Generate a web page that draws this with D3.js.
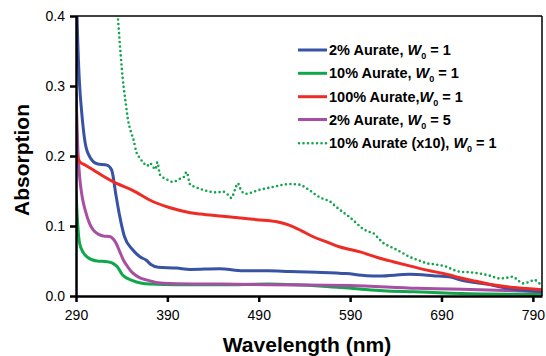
<!DOCTYPE html>
<html>
<head>
<meta charset="utf-8">
<script src="https://cdn.jsdelivr.net/npm/d3@7"></script>
<style>
body { margin: 0; background: #fff; }
svg text { font-family: "Liberation Sans", Arial, sans-serif; }
</style>
</head>
<body>
<div id="viz"></div>
<script>
// series: [wavelength nm, absorption]
var blue2w1 = [[290,0.45],[292,0.36],[294,0.30],[296,0.266],[300,0.219],[305,0.199],[313,0.189],[324,0.187],[329,0.18],
  [334,0.142],[338,0.113],[343,0.085],[352,0.066],[360,0.056],[367,0.051],[372,0.045],[380,0.041],[400,0.040],[415,0.038],
  [447,0.039],[473,0.036],[500,0.036],[524,0.035],[553,0.034],[586,0.032],[608,0.029],[622,0.0286],[655,0.031],[681,0.029],
  [700,0.027],[710,0.023],[739,0.017],[768,0.010],[800,0.006]];
var green10w1 = [[290,0.15],[292,0.10],[294,0.075],[298,0.062],[302,0.056],[313,0.050],[324,0.049],[330,0.047],[335,0.042],
  [341,0.030],[352,0.022],[371,0.017],[400,0.016],[450,0.016],[500,0.017],[530,0.016],[560,0.014],[600,0.010],[626,0.0076],
  [660,0.006],[700,0.004],[735,0.003],[800,0.002]];
var red100w1 = [[290,0.205],[294,0.192],[300,0.187],[309,0.18],[320,0.171],[331,0.163],[352,0.151],[374,0.135],[393,0.126],
  [415,0.119],[426,0.117],[451,0.114],[488,0.109],[510,0.106],[524,0.101],[537,0.093],[549,0.085],[565,0.077],[579,0.070],
  [601,0.063],[620,0.055],[637,0.049],[655,0.043],[674,0.037],[699,0.030],[710,0.026],[728,0.021],[746,0.016],[770,0.012],[800,0.009]];
var purple2w5 = [[290,0.29],[291,0.25],[292,0.21],[294,0.17],[297,0.14],[300,0.123],[305,0.103],[309,0.094],[315,0.088],
  [320,0.0857],[327,0.085],[331,0.081],[334,0.075],[338,0.063],[342,0.051],[347,0.041],[352,0.033],[360,0.026],[367,0.023],
  [380,0.019],[393,0.018],[450,0.017],[500,0.016],[590,0.015],[663,0.011],[700,0.010],[760,0.008],[800,0.006]];
var green10x10 = [[336,0.395],[338,0.36],[340,0.327],[342,0.30],[344,0.28],[347,0.251],[350,0.235],[353,0.223],[356,0.206],
  [360,0.197],[364,0.19],[368,0.186],[371,0.19],[374,0.185],[377,0.181],[379,0.191],[382,0.173],[389,0.167],[396,0.163],
  [403,0.167],[408,0.17],[411,0.177],[415,0.159],[420,0.156],[428,0.152],[437,0.149],[444,0.148],[451,0.149],[456,0.145],
  [460,0.14],[464,0.152],[467,0.161],[471,0.15],[476,0.146],[480,0.147],[489,0.151],[499,0.154],[506,0.156],[517,0.159],
  [524,0.16],[535,0.159],[542,0.154],[548,0.149],[553,0.144],[560,0.139],[568,0.135],[575,0.127],[582,0.12],[590,0.112],
  [597,0.104],[604,0.096],[610,0.092],[615,0.09],[622,0.081],[627,0.075],[634,0.0705],[641,0.066],[648,0.061],[655,0.056],
  [665,0.051],[674,0.0467],[684,0.045],[695,0.042],[702,0.038],[710,0.0347],[720,0.034],[732,0.032],[743,0.029],[754,0.025],
  [761,0.026],[768,0.0276],[774,0.022],[779,0.018],[786,0.02],[792,0.023],[796,0.019],[800,0.0157]];

var xTicks = [290, 390, 490, 590, 690, 790];
var yTicks = [0, 0.1, 0.2, 0.3, 0.4];
var legendNames = ["2% Aurate, ", "10% Aurate, ", "100% Aurate,", "2% Aurate, ", "10% Aurate (x10), "];
var legendW0 = ["1", "1", "1", "5", "1"];

var colors = ["#3953a4", "#11a64c", "#ee2b25", "#a84ea5", "#11a64c"];
var allSeries = [blue2w1, green10w1, red100w1, purple2w5, green10x10];
var drawOrder = [4, 1, 3, 0, 2];

var W = 546, H = 356;
var x = d3.scaleLinear().domain([290, 800]).range([76, 542]);
var y = d3.scaleLinear().domain([0, 0.4]).range([296, 16]);

var svg = d3.select("#viz").append("svg")
    .attr("width", W)
    .attr("height", H);

svg.append("clipPath").attr("id", "clip")
  .append("rect")
    .attr("x", x(290)).attr("y", y(0.4))
    .attr("width", x(800) - x(290)).attr("height", y(0) - y(0.4));

var line = d3.line()
    .x(function(d){return x(d[0]);})
    .y(function(d){return y(d[1]);})
    .curve(d3.curveMonotoneX);

var plot = svg.append("g").attr("clip-path", "url(#clip)");

drawOrder.forEach(function(i) {
  var p = plot.append("path")
      .datum(allSeries[i])
      .attr("d", line)
      .attr("fill", "none")
      .attr("stroke", colors[i])
      .attr("stroke-width", 3)
      .attr("stroke-linejoin", "round");
  if (i == 4) {
    p.attr("stroke-width", 2.6).attr("stroke-dasharray", "0 4.5").attr("stroke-linecap", "round");
  }
});

// frame: top and right
svg.append("line")
    .attr("x1", x(290)).attr("x2", x(800))
    .attr("y1", y(0.4)).attr("y2", y(0.4))
    .attr("stroke", "#000").attr("stroke-width", 1.5);
svg.append("line")
    .attr("x1", x(800)).attr("x2", x(800))
    .attr("y1", y(0.4)).attr("y2", y(0))
    .attr("stroke", "#000").attr("stroke-width", 1.5);

var xAxis = svg.append("g")
    .attr("transform", "translate(0," + y(0) + ")")
    .call(d3.axisBottom(x).tickValues(xTicks).tickSize(6).tickSizeOuter(0).tickPadding(8));
var yAxis = svg.append("g")
    .attr("transform", "translate(" + x(290) + ",0)")
    .call(d3.axisLeft(y).tickValues(yTicks).tickSize(6).tickSizeOuter(0).tickPadding(5).tickFormat(d3.format(".1f")));

[xAxis, yAxis].forEach(function(a) {
  a.select(".domain").attr("stroke", "#000").attr("stroke-width", 2.5);
  a.selectAll(".tick line").attr("stroke", "#000").attr("stroke-width", 2.5);
  a.selectAll(".tick text").attr("fill", "#000").style("font-size", "14px");
});

svg.append("text")
    .attr("x", 307).attr("y", 352)
    .attr("text-anchor", "middle")
    .style("font-size", "21px").style("font-weight", "bold")
    .text("Wavelength (nm)");

svg.append("text")
    .attr("transform", "translate(29,160) rotate(-90)")
    .attr("text-anchor", "middle")
    .style("font-size", "21px").style("font-weight", "bold")
    .text("Absorption");

// legend
var legendY = [50, 73.3, 96.7, 119.5, 143.3];
var lg = svg.append("g");
legendNames.forEach(function(name, i) {
  var l = lg.append("line")
      .attr("x1", 298).attr("x2", 327)
      .attr("y1", legendY[i]).attr("y2", legendY[i])
      .attr("stroke", colors[i]).attr("stroke-width", 3);
  if (i == 4) l.attr("stroke-width", 2.6).attr("stroke-dasharray", "0 4.5").attr("stroke-linecap", "round").attr("x1", 299);
  var t = lg.append("text")
      .attr("x", 329).attr("y", legendY[i] + 5)
      .style("font-size", "14.5px").style("font-weight", "bold");
  t.append("tspan").text(name);
  t.append("tspan").style("font-style", "italic").text("W");
  t.append("tspan").attr("dy", 4).style("font-size", "9px").text("0");
  t.append("tspan").attr("dy", -4).text(" = " + legendW0[i]);
});
</script>
</body>
</html>
